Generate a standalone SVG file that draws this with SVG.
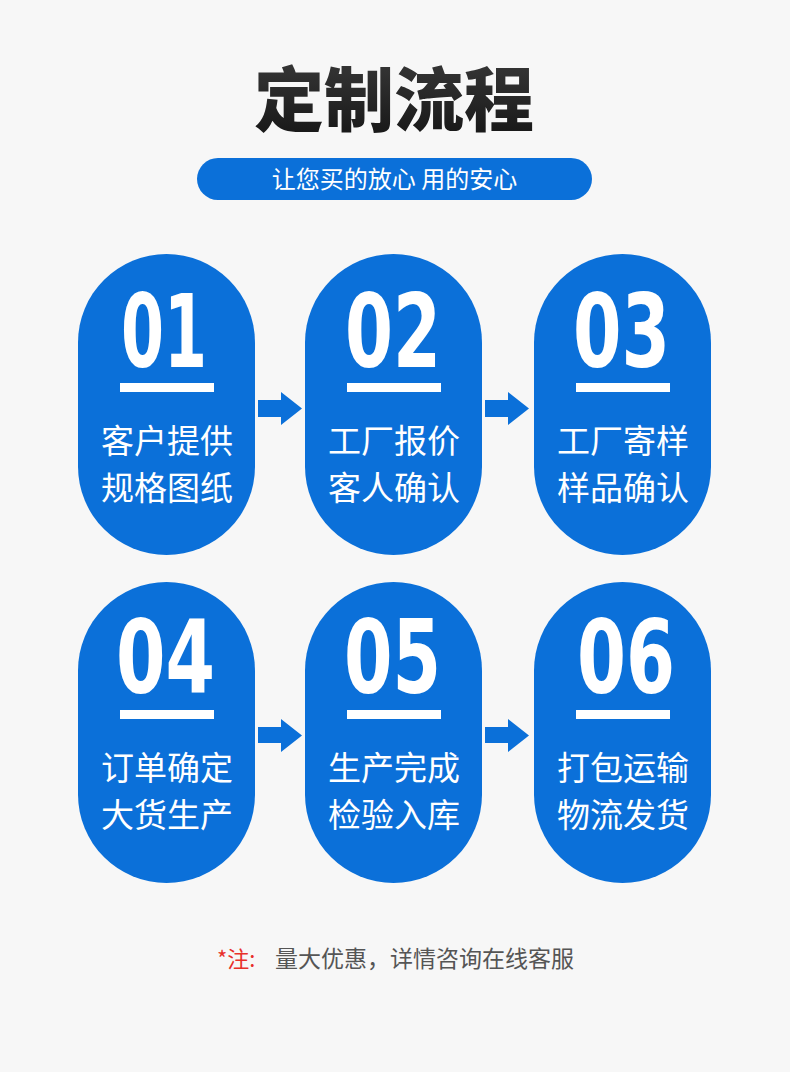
<svg xmlns="http://www.w3.org/2000/svg" width="790" height="1072" viewBox="0 0 790 1072">
<defs>
<linearGradient id="tg" x1="0" y1="0" x2="0" y2="1">
<stop offset="0" stop-color="#3c3c3c"/>
<stop offset="1" stop-color="#141414"/>
</linearGradient>
<style>
.cjk{font-family:"Noto Sans CJK SC","Noto Sans",sans-serif}
.node{fill:#0b70d9}
.num{font-family:"DejaVu Sans Condensed","DejaVu Sans",sans-serif;font-weight:bold;font-size:102px;fill:#fff}
.bar{fill:#fff}
.lbl{font-family:"Noto Sans CJK SC","Noto Sans",sans-serif;font-size:33px;fill:#fff;text-anchor:middle}
.arrow{fill:#0b70d9}
</style>
</defs>
<rect width="790" height="1072" fill="#f7f7f7"/>
<g id="title">
<text x="394" y="126" class="cjk" font-size="70" font-weight="900" fill="url(#tg)" text-anchor="middle">定制流程</text>
</g>
<g id="subtitle">
<rect x="197" y="158" width="395" height="42" rx="21" fill="#0b70d9"/>
<text x="394.5" y="188" class="cjk" font-size="24" fill="#fff" text-anchor="middle">让您买的放心 用的安心</text>
</g>
<g id="node1">
<rect class="node" x="78" y="254" width="177" height="301" rx="88.5"/>
<text class="num" x="121" y="367" textLength="86" lengthAdjust="spacingAndGlyphs">01</text>
<rect class="bar" x="120" y="383" width="94" height="9"/>
<text class="lbl" x="167" y="453">客户提供</text>
<text class="lbl" x="167" y="500">规格图纸</text>
</g>
<g id="node2">
<rect class="node" x="305" y="254" width="177" height="301" rx="88.5"/>
<text class="num" x="345" y="367" textLength="96" lengthAdjust="spacingAndGlyphs">02</text>
<rect class="bar" x="347" y="383" width="94" height="9"/>
<text class="lbl" x="394" y="453">工厂报价</text>
<text class="lbl" x="394" y="500">客人确认</text>
</g>
<g id="node3">
<rect class="node" x="534" y="254" width="177" height="301" rx="88.5"/>
<text class="num" x="573" y="367" textLength="97" lengthAdjust="spacingAndGlyphs">03</text>
<rect class="bar" x="576" y="383" width="94" height="9"/>
<text class="lbl" x="623" y="453">工厂寄样</text>
<text class="lbl" x="623" y="500">样品确认</text>
</g>
<g id="node4">
<rect class="node" x="78" y="582" width="177" height="301" rx="88.5"/>
<text class="num" x="116" y="693" textLength="99" lengthAdjust="spacingAndGlyphs">04</text>
<rect class="bar" x="120" y="710" width="94" height="9"/>
<text class="lbl" x="167" y="780">订单确定</text>
<text class="lbl" x="167" y="827">大货生产</text>
</g>
<g id="node5">
<rect class="node" x="305" y="582" width="177" height="301" rx="88.5"/>
<text class="num" x="344" y="693" textLength="97" lengthAdjust="spacingAndGlyphs">05</text>
<rect class="bar" x="347" y="710" width="94" height="9"/>
<text class="lbl" x="394" y="780">生产完成</text>
<text class="lbl" x="394" y="827">检验入库</text>
</g>
<g id="node6">
<rect class="node" x="534" y="582" width="177" height="301" rx="88.5"/>
<text class="num" x="577" y="693" textLength="98" lengthAdjust="spacingAndGlyphs">06</text>
<rect class="bar" x="576" y="710" width="94" height="9"/>
<text class="lbl" x="623" y="780">打包运输</text>
<text class="lbl" x="623" y="827">物流发货</text>
</g>
<g id="connectors">
<path class="arrow" d="M258 400H281V392L302 408.5L281 425V417H258Z"/>
<path class="arrow" d="M485 400H508V392L529 408.5L508 425V417H485Z"/>
<path class="arrow" d="M258 727H281V719L302 735.5L281 752V743H258Z"/>
<path class="arrow" d="M485 727H508V719L529 735.5L508 752V743H485Z"/>
</g>
<g id="footer">
<text x="217" y="967" class="cjk" font-size="22" fill="#e8302a">*注:</text>
<text x="275" y="967" class="cjk" font-size="23" fill="#555">量大优惠，详情咨询在线客服</text>
</g>
</svg>
